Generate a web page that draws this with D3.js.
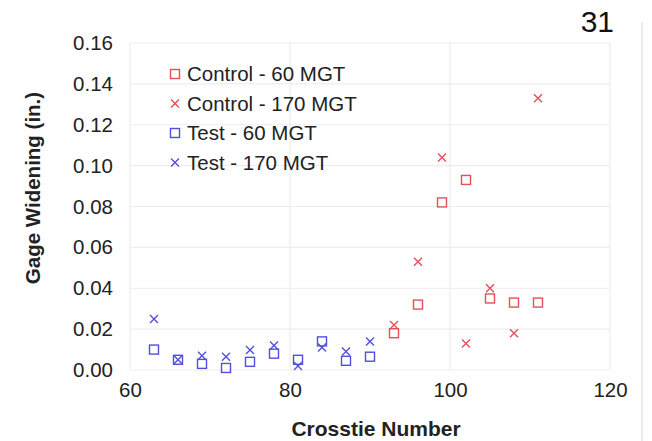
<!DOCTYPE html>
<html>
  <head>
    <meta charset="utf-8" />
    <style>
      body{
        margin: 0;
        background: white;
        font-family: 'Liberation Sans', Arial, sans-serif;
      }
    </style>
  </head>
  <body>
    <script src="https://d3js.org/d3.v7.min.js"></script>
    <svg id="chart"></svg>
    <script>
      var crossties = [63, 66, 69, 72, 75, 78, 81, 84, 87, 90];
      var test60 = [0.010, 0.005, 0.003, 0.001, 0.004, 0.008, 0.005, 0.014, 0.0045, 0.0065];
      var test170 = [0.025, 0.005, 0.007, 0.0065, 0.0098, 0.012, 0.002, 0.011, 0.009, 0.014];

      var controlCrossties = [93, 96, 99, 102, 105, 108, 111];
      var control60 = [0.018, 0.032, 0.082, 0.093, 0.035, 0.033, 0.033];
      var control170 = [0.022, 0.053, 0.104, 0.013, 0.040, 0.018, 0.133];

      var xTicks = [60, 80, 100, 120];
      var yTicks = [0, 0.02, 0.04, 0.06, 0.08, 0.10, 0.12, 0.14, 0.16];

      var red = "#e4505a";
      var blue = "#5050dc";

      var series = [
        { name: "Control - 60 MGT", x: controlCrossties, y: control60, color: red, shape: "square" },
        { name: "Control - 170 MGT", x: controlCrossties, y: control170, color: red, shape: "cross" },
        { name: "Test - 60 MGT", x: crossties, y: test60, color: blue, shape: "square" },
        { name: "Test - 170 MGT", x: crossties, y: test170, color: blue, shape: "cross" }
      ];

      var width = 652;
      var height = 441;

      var svg = d3.select("#chart")
        .attr("width", width)
        .attr("height", height);

      var x = d3.scaleLinear().domain([60, 120]).range([130, 610]);
      var y = d3.scaleLinear().domain([0, 0.16]).range([370, 43]);

      // page edge line on the right
      svg.append("line")
        .attr("x1", 642).attr("x2", 642)
        .attr("y1", 22).attr("y2", height)
        .attr("stroke", "#e4e4e4")
        .attr("stroke-width", 1.5);

      // grid
      svg.selectAll(".hgrid")
        .data(yTicks)
        .enter()
        .append("line")
        .attr("class", "hgrid")
        .attr("x1", x(60)).attr("x2", x(120))
        .attr("y1", function (d) { return y(d); })
        .attr("y2", function (d) { return y(d); })
        .attr("stroke", "#ededed")
        .attr("stroke-width", 1.2);

      svg.selectAll(".vgrid")
        .data(xTicks)
        .enter()
        .append("line")
        .attr("class", "vgrid")
        .attr("x1", function (d) { return x(d); })
        .attr("x2", function (d) { return x(d); })
        .attr("y1", y(0.16)).attr("y2", y(0))
        .attr("stroke", "#ededed")
        .attr("stroke-width", 1.2);

      // axes (labels only)
      var yAxis = d3.axisLeft(y).tickValues(yTicks).tickSize(0).tickPadding(0)
        .tickFormat(d3.format(".2f"));
      var gy = svg.append("g").attr("transform", "translate(113,0)").call(yAxis);
      gy.select(".domain").remove();
      gy.selectAll("text")
        .attr("font-family", "'Liberation Sans', Arial, sans-serif")
        .attr("font-size", 20.5)
        .attr("fill", "#222");

      var xAxis = d3.axisBottom(x).tickValues(xTicks).tickSize(0).tickPadding(0);
      var gx = svg.append("g").attr("transform", "translate(0,382)").call(xAxis);
      gx.select(".domain").remove();
      gx.selectAll("text")
        .attr("font-family", "'Liberation Sans', Arial, sans-serif")
        .attr("font-size", 20.5)
        .attr("fill", "#222");

      // axis titles
      svg.append("text")
        .attr("x", 376)
        .attr("y", 436)
        .attr("text-anchor", "middle")
        .attr("font-size", 21)
        .attr("font-weight", "bold")
        .attr("fill", "#222")
        .text("Crosstie Number");

      svg.append("text")
        .attr("transform", "translate(40,188) rotate(-90)")
        .attr("text-anchor", "middle")
        .attr("font-size", 20.5)
        .attr("font-weight", "bold")
        .attr("fill", "#222")
        .text("Gage Widening (in.)");

      svg.append("text")
        .attr("x", 614)
        .attr("y", 32)
        .attr("text-anchor", "end")
        .attr("font-size", 30)
        .attr("fill", "#111")
        .text("31");

      function drawMarker(g, shape, color, cx, cy) {
        if (shape === "square") {
          g.append("rect")
            .attr("x", cx - 4.5).attr("y", cy - 4.5)
            .attr("width", 9).attr("height", 9)
            .attr("fill", "none")
            .attr("stroke", color)
            .attr("stroke-width", 1.4);
        } else {
          g.append("path")
            .attr("d", "M" + (cx - 4) + "," + (cy - 4) + "L" + (cx + 4) + "," + (cy + 4) +
              "M" + (cx - 4) + "," + (cy + 4) + "L" + (cx + 4) + "," + (cy - 4))
            .attr("fill", "none")
            .attr("stroke", color)
            .attr("stroke-width", 1.4);
        }
      }

      // points
      series.forEach(function (s) {
        var g = svg.append("g");
        s.y.forEach(function (v, i) {
          drawMarker(g, s.shape, s.color, x(s.x[i]), y(v));
        });
      });

      // legend
      var legend = svg.append("g");
      series.forEach(function (s, i) {
        var ly = 74 + i * 29.5;
        drawMarker(legend, s.shape, s.color, 175, ly);
        legend.append("text")
          .attr("x", 187)
          .attr("y", ly + 7)
          .attr("font-size", 20.5)
          .attr("fill", "#222")
          .text(s.name);
      });
    </script>
  </body>
</html>
